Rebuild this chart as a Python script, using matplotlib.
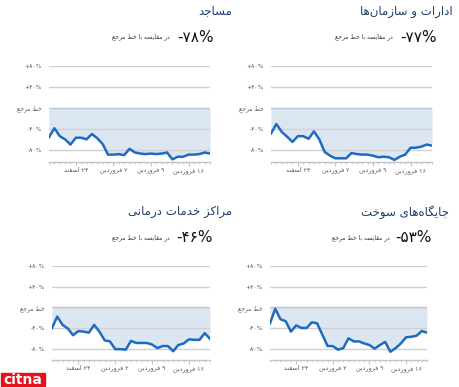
import matplotlib
matplotlib.use('Agg')
import matplotlib.pyplot as plt

# ---------------- data ----------------
days = list(range(31))
offices = [-48, -30, -45, -54, -64, -53, -53, -58, -44, -59, -83, -90, -95, -95, -95, -85,
           -87, -88, -88, -90, -93, -92, -93, -98, -92, -88, -75, -75, -73, -69, -71]
mosques = [-55, -38, -53, -59, -69, -56, -56, -59, -49, -57, -68, -88, -88, -87, -89, -77,
           -84, -86, -87, -86, -87, -86, -84, -97, -92, -92, -88, -88, -87, -84, -86]
fuel = [-31, -3, -23, -27, -47, -35, -40, -40, -29, -31, -53, -75, -75, -82, -79, -60,
        -66, -66, -70, -73, -80, -73, -67, -86, -79, -70, -58, -57, -55, -46, -49]
health = [-40, -18, -34, -41, -54, -46, -47, -49, -34, -47, -64, -66, -81, -81, -82, -65,
          -69, -69, -69, -72, -79, -75, -75, -85, -73, -70, -62, -63, -63, -50, -61]

titles = ['ادارات و سازمان‌ها', 'مساجد', 'جایگاه‌های سوخت', 'مراکز خدمات درمانی']
headline = ['-۷۷%', '-۷۸%', '-۵۳%', '-۴۶%']
subtitle = 'در مقایسه با خط مرجع'
xtick_pos = [5, 12, 19, 26]
xtick_labels = ['۲۴ اسفند', '۲ فروردین', '۹ فروردین', '۱۶ فروردین']
ytick_pos = [80, 40, 0, -40, -80]
ytick_labels = ['+۸۰%', '+۴۰%', 'خط مرجع', '-۴۰%', '-۸۰%']

# ---------------- minimal Arabic/Persian shaping ----------------
FORMS = {
    'ا': ('\uFE8D', '\uFE8E', None, None),
    'ب': ('\uFE8F', '\uFE90', '\uFE91', '\uFE92'),
    'ت': ('\uFE95', '\uFE96', '\uFE97', '\uFE98'),
    'ج': ('\uFE9D', '\uFE9E', '\uFE9F', '\uFEA0'),
    'خ': ('\uFEA5', '\uFEA6', '\uFEA7', '\uFEA8'),
    'د': ('\uFEA9', '\uFEAA', None, None),
    'ر': ('\uFEAD', '\uFEAE', None, None),
    'ز': ('\uFEAF', '\uFEB0', None, None),
    'س': ('\uFEB1', '\uFEB2', '\uFEB3', '\uFEB4'),
    'ط': ('\uFEC1', '\uFEC2', '\uFEC3', '\uFEC4'),
    'ع': ('\uFEC9', '\uFECA', '\uFECB', '\uFECC'),
    'ف': ('\uFED1', '\uFED2', '\uFED3', '\uFED4'),
    'ق': ('\uFED5', '\uFED6', '\uFED7', '\uFED8'),
    'م': ('\uFEE1', '\uFEE2', '\uFEE3', '\uFEE4'),
    'ن': ('\uFEE5', '\uFEE6', '\uFEE7', '\uFEE8'),
    'ه': ('\uFEE9', '\uFEEA', '\uFEEB', '\uFEEC'),
    'و': ('\uFEED', '\uFEEE', None, None),
    'ی': ('\uFBFC', '\uFBFD', '\uFBFE', '\uFBFF'),
    'ک': ('\uFB8E', '\uFB8F', '\uFB90', '\uFB91'),
    'گ': ('\uFB92', '\uFB93', '\uFB94', '\uFB95'),
}
DUAL = {c for c, f in FORMS.items() if f[2] is not None}
DIGITS = set('0123456789۰۱۲۳۴۵۶۷۸۹')


def fa(s):
    out = []
    n = len(s)
    for i, c in enumerate(s):
        if c == '\u200c':
            continue
        if c in FORMS:
            prev = s[i - 1] if i > 0 else ''
            nxt = s[i + 1] if i < n - 1 else ''
            jp = prev in DUAL
            jn = c in DUAL and nxt in FORMS
            f = FORMS[c]
            if jp and jn:
                g = f[3]
            elif jp:
                g = f[1]
            elif jn:
                g = f[2]
            else:
                g = f[0]
            out.append(g)
        else:
            out.append(c)
    out = out[::-1]
    # restore digit runs to LTR
    res = []
    i = 0
    while i < len(out):
        if out[i] in DIGITS:
            j = i
            while j < len(out) and out[j] in DIGITS:
                j += 1
            res.extend(out[i:j][::-1])
            i = j
        else:
            res.append(out[i])
            i += 1
    return ''.join(res)


plt.rcParams['font.family'] = ['DejaVu Sans']

fig = plt.figure(figsize=(4.6, 3.87), dpi=100)
W, H = 460.0, 387.0

LINE = '#1e6bbf'
FILL = '#dce6f1'
GRID = '#d0d0d0'
TITLE_C = '#1f3f6e'

panels = [
    # series index, x-range px, grid top px, axis bottom px, title right, number right, subtitle right, title y, number y
    (offices, 0, (271, 432), 66, 162, 453, 437, 393, 11, 37),
    (mosques, 1, (49, 210), 66, 162, 232, 214, 170, 11, 37),
    (fuel, 2, (270, 427), 266, 360, 449, 432, 390, 212, 238),
    (health, 3, (52, 210), 266, 360, 232, 213, 170, 212, 238),
]

for vals, k, (x0, x1), ytop, ybot, tr, nr, sr, ty, ny in panels:
    ax = fig.add_axes([x0 / W, 1 - ybot / H, (x1 - x0) / W, (ybot - ytop) / H])
    ax.set_xlim(0, 30)
    ax.set_ylim(-102, 80)
    for v in ytick_pos:
        ax.axhline(v, color=('#bcc6d3' if v == 0 else GRID), lw=1.0, zorder=1)
    ax.fill_between(days, vals, 0, color=FILL, zorder=0, lw=0)
    ax.plot(days, vals, color=LINE, lw=1.8, zorder=3)
    for s in ['top', 'right', 'left']:
        ax.spines[s].set_visible(False)
    ax.spines['bottom'].set_color('#c4c4c4')
    ax.spines['bottom'].set_linewidth(1.0)
    ax.set_xticks(xtick_pos)
    ax.set_xticklabels([fa(t) for t in xtick_labels], fontsize=4.6, color='#555555')
    ax.set_xticks(days, minor=True)
    ax.tick_params(axis='x', which='major', length=3, color='#c4c4c4', pad=1.5)
    ax.tick_params(axis='x', which='minor', length=1.5, color='#c4c4c4')
    ax.set_yticks(ytick_pos)
    ax.set_yticklabels([fa(t) if t == 'خط مرجع' else t for t in ytick_labels],
                       fontsize=4.3, color='#555555')
    ax.tick_params(axis='y', length=0, pad=5)
    ax.patch.set_alpha(0)

    fig.text(tr / W, 1 - ty / H, fa(titles[k]), ha='right', va='center',
             fontsize=8.5, color=TITLE_C)
    fig.text(nr / W, 1 - ny / H, headline[k], ha='right', va='center',
             fontsize=11, color='#111111')
    fig.text(sr / W, 1 - ny / H, fa(subtitle), ha='right', va='center',
             fontsize=4.3, color='#333333')

# logo
fig.patches.append(matplotlib.patches.Rectangle((1 / W, 1 - 386 / H), 44 / W, 13 / H,
                                                transform=fig.transFigure,
                                                color='#e3121b', zorder=5))
fig.text(23 / W, 1 - 379.5 / H, 'citna', ha='center', va='center', fontsize=10,
         color='white', fontweight='bold', zorder=6)

fig.savefig('out.png', dpi=100)
